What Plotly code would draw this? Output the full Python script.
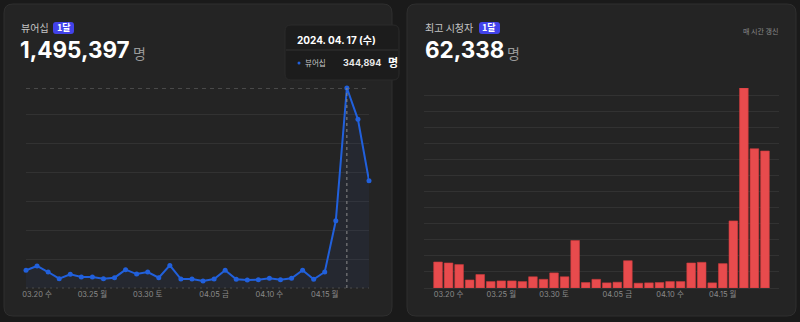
import plotly.graph_objects as go

W, H = 800, 322

dates = ["03.19", "03.20", "03.21", "03.22", "03.23", "03.24", "03.25", "03.26",
         "03.27", "03.28", "03.29", "03.30", "03.31", "04.01", "04.02", "04.03",
         "04.04", "04.05", "04.06", "04.07", "04.08", "04.09", "04.10", "04.11",
         "04.12", "04.13", "04.14", "04.15", "04.16", "04.17", "04.18", "04.19"]

viewership = [30500, 38000, 27600, 16000, 23600, 19000, 19000, 16000,
              17800, 31600, 24000, 27600, 17800, 39000, 15500, 15500,
              12000, 15500, 30500, 15000, 13800, 14400, 17000, 14400,
              16700, 30500, 15000, 27600, 116000, 344894, 290800, 185000]

peak_viewers = [8100, 7800, 7300, 2500, 4200, 2000, 2200, 2200,
                2000, 3500, 2700, 4700, 3500, 14800, 1700, 2700,
                1600, 1800, 8500, 1500, 1600, 1700, 2000, 2000,
                7800, 8000, 1600, 7600, 20900, 62338, 43400, 42700]

tick_vals = ["03.20", "03.25", "03.30", "04.05", "04.10", "04.15"]
tick_text = ["03.20 수", "03.25 월", "03.30 토", "04.05 금", "04.10 수", "04.15 월"]

FONT = "Inter, 'Noto Sans CJK KR', sans-serif"
KFONT = "'Noto Sans CJK KR', sans-serif"


def px(x):
    return x / W


def py(y):
    return 1 - y / H


def rr(x0, y0, x1, y1, r):
    X0, X1, Y0, Y1 = px(x0), px(x1), py(y0), py(y1)
    rx, ry = r / W, r / H
    return (f"M {X0+rx},{Y0} L {X1-rx},{Y0} Q {X1},{Y0} {X1},{Y0-ry} "
            f"L {X1},{Y1+ry} Q {X1},{Y1} {X1-rx},{Y1} L {X0+rx},{Y1} "
            f"Q {X0},{Y1} {X0},{Y1+ry} L {X0},{Y0-ry} Q {X0},{Y0} {X0+rx},{Y0} Z")


fig = go.Figure()

# viewership line
fig.add_trace(go.Scatter(
    x=dates, y=viewership, mode="lines+markers",
    line=dict(color="#2160dc", width=2),
    marker=dict(color="#2160dc", size=5),
    fill="tozeroy", fillcolor="rgba(45,80,160,0.10)",
    cliponaxis=False, hoverinfo="skip", xaxis="x", yaxis="y"))

# peak viewers bars
fig.add_trace(go.Bar(
    x=dates, y=peak_viewers,
    marker=dict(color="#e84b4d", line=dict(color="#cf3b3d", width=0.6)),
    hoverinfo="skip", xaxis="x2", yaxis="y2"))

ydom = [py(288), py(88)]
grid = "#323232"
tickfont = dict(size=7.5, color="#8a8a8a", family=FONT)
fig.update_layout(
    width=W, height=H, margin=dict(l=0, r=0, t=0, b=0), autosize=False,
    paper_bgcolor="#1a1a1a", plot_bgcolor="rgba(0,0,0,0)",
    showlegend=False, bargap=0.18,
    font=dict(family=FONT, color="#8a8a8a", size=9),
    xaxis=dict(domain=[px(26), px(369)], type="category", range=[0, 31],
               tickvals=tick_vals, ticktext=tick_text, showgrid=False,
               zeroline=False, showline=False, ticks="", automargin=False,
               tickfont=tickfont),
    yaxis=dict(domain=ydom, range=[0, 344894], dtick=50000, showticklabels=False,
               gridcolor=grid, zeroline=False, showline=False, automargin=False),
    xaxis2=dict(domain=[px(424), px(779)], type="category", range=[-1.33, 32.33],
                tickvals=tick_vals, ticktext=tick_text, showgrid=False,
                zeroline=False, showline=False, ticks="", anchor="y2", automargin=False,
                tickfont=tickfont),
    yaxis2=dict(domain=ydom, range=[0, 62338], dtick=5000, showticklabels=False,
                gridcolor=grid, zeroline=True, zerolinecolor=grid, zerolinewidth=1,
                showline=False, anchor="x2", automargin=False),
)

shapes = []
# cards
shapes.append(dict(type="path", path=rr(4, 4, 392, 316, 9), xref="paper", yref="paper",
                   fillcolor="#242424", line=dict(color="#2f2f2f", width=1), layer="below"))
shapes.append(dict(type="path", path=rr(407, 4, 796, 316, 9), xref="paper", yref="paper",
                   fillcolor="#242424", line=dict(color="#2f2f2f", width=1), layer="below"))
# badges
shapes.append(dict(type="path", path=rr(53, 22, 74, 34, 3), xref="paper", yref="paper",
                   fillcolor="#4242ea", line=dict(width=0)))
shapes.append(dict(type="path", path=rr(479, 22, 500, 34, 3), xref="paper", yref="paper",
                   fillcolor="#4242ea", line=dict(width=0)))
# left dotted baseline
shapes.append(dict(type="line", xref="paper", yref="paper", x0=px(26), x1=px(369),
                   y0=py(288), y1=py(288), line=dict(color="#4a4a4a", width=1, dash="2px,4px")))
# crosshair
peak_i = viewership.index(max(viewership))
shapes.append(dict(type="line", xref="paper", yref="y", x0=px(26), x1=px(369),
                   y0=max(viewership), y1=max(viewership),
                   line=dict(color="#6e6e6e", width=1, dash="4px,4px")))
shapes.append(dict(type="line", xref="x", yref="y", x0=peak_i, x1=peak_i,
                   y0=0, y1=max(viewership),
                   line=dict(color="#8a8a8a", width=1, dash="3px,3px")))
# tooltip
shapes.append(dict(type="path", path=rr(285, 25, 399, 80, 6), xref="paper", yref="paper",
                   fillcolor="#1c1c1c", line=dict(color="#2a2a2a", width=1)))
shapes.append(dict(type="line", xref="paper", yref="paper", x0=px(286), x1=px(398),
                   y0=py(50), y1=py(50), line=dict(color="#333333", width=1)))
shapes.append(dict(type="circle", xref="paper", yref="paper", x0=px(297.5), x1=px(300.5),
                   y0=py(61.5), y1=py(64.5), fillcolor="#2160dc", line=dict(width=0)))
fig.update_layout(shapes=shapes)


def ann(x, y, text, size, color, bold=False, xanchor="left", family=FONT):
    t = f"<b>{text}</b>" if bold else text
    fig.add_annotation(x=px(x), y=py(y), xref="paper", yref="paper", text=t,
                       showarrow=False, xanchor=xanchor, yanchor="middle",
                       font=dict(size=size, color=color, family=family), borderpad=0)


# left header
ann(20, 28, "뷰어십", 10, "#c4c4c4", family=KFONT)
ann(63.5, 28, "1달", 9, "#ffffff", bold=True, xanchor="center", family=KFONT)
ann(19, 50, "1,495,397", 22.5, "#ffffff", bold=True)
ann(132, 53, "명", 14, "#9a9a9a", family=KFONT)
# right header
ann(424, 28, "최고 시청자", 10, "#c4c4c4", family=KFONT)
ann(489.5, 28, "1달", 9, "#ffffff", bold=True, xanchor="center", family=KFONT)
ann(424, 50, "62,338", 22.5, "#ffffff", bold=True)
ann(506, 53, "명", 14, "#9a9a9a", family=KFONT)
ann(779, 31, "매 시간 갱신", 7, "#8a8a8a", xanchor="right", family=KFONT)
# tooltip text
ann(296, 40, "2024. 04. 17 (수)", 10, "#ffffff", bold=True)
ann(304, 63, "뷰어십", 7.5, "#c8c8c8", family=KFONT)
ann(342, 63, "344,894", 9, "#e8e8e8", bold=True)
ann(387, 62, "명", 11, "#ffffff", bold=True, family=KFONT)

fig.write_html(
    "out.html",
    config={"responsive": False},
    post_script="document.body.style.margin='0';document.body.style.padding='0';"
                "document.documentElement.style.overflow='hidden';",
)
